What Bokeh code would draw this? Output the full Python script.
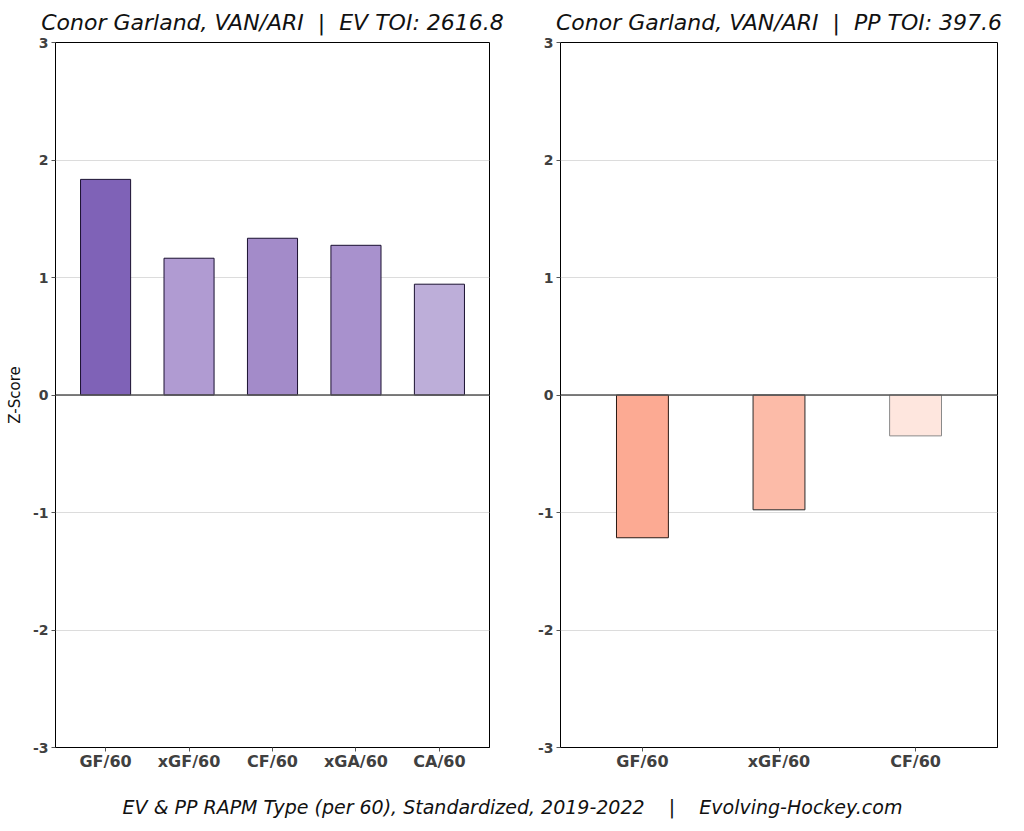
from bokeh.plotting import figure
from bokeh.models import FixedTicker, Span, Range1d, Label, ColumnDataSource
from bokeh.layouts import column, row
from bokeh.embed import file_html
from bokeh.resources import INLINE

# ---- data ----
ev_categories = ["GF/60", "xGF/60", "CF/60", "xGA/60", "CA/60"]
ev_values = [1.835, 1.164, 1.334, 1.274, 0.943]
ev_colors = ["#7f62b7", "#b09bd2", "#a38bc9", "#a891cd", "#bdaed9"]

pp_categories = ["GF/60", "xGF/60", "CF/60"]
pp_values = [-1.215, -0.977, -0.348]
pp_colors = ["#fcaa93", "#fcbba8", "#fee6de"]
pp_edges = ["#2a1a14", "#2a2a2a", "#8a8a8a"]

y_ticks = [-3, -2, -1, 0, 1, 2, 3]
y_tick_labels = ["-3", "-2", "-1", "0", "1", "2", "3"]

NB = "\u00a0"
ev_title = "Conor Garland, VAN/ARI" + NB * 2 + "|" + NB * 2 + "EV TOI: 2616.8"
pp_title = "Conor Garland, VAN/ARI" + NB * 2 + "|" + NB * 2 + "PP TOI: 397.6"
footer_text = ("EV & PP RAPM Type (per 60), Standardized, 2019-2022" + NB * 4 + "|" + NB * 4
               + "Evolving-Hockey.com")

FONT = "DejaVu Sans"


def make_panel(title, cats, vals, colors, edges, bar_width, width, bl, br, ylabel):
    n = len(cats)
    p = figure(width=width, height=790, output_backend="svg", toolbar_location=None,
               x_range=Range1d(-0.6, n - 1 + 0.6), y_range=Range1d(-3, 3),
               min_border_left=bl, min_border_right=br, min_border_top=42,
               min_border_bottom=43)
    p.title.text = title
    p.title.text_font = FONT
    p.title.text_font_style = "italic"
    p.title.text_font_size = "22px"
    p.title.text_color = "#111111"
    p.title.align = "center"
    p.title.standoff = 15

    src = ColumnDataSource(dict(x=list(range(n)), top=vals, color=colors, edge=edges))
    p.vbar(x="x", top="top", bottom=0, width=bar_width, source=src,
           fill_color="color", line_color="edge", line_width=1)

    p.add_layout(Span(location=0, dimension="width", line_color="#555555", line_width=1.3))

    p.xgrid.visible = False
    p.ygrid.grid_line_color = "#dcdcdc"
    p.ygrid.grid_line_width = 1
    p.ygrid.ticker = FixedTicker(ticks=y_ticks)

    p.outline_line_color = "black"
    p.outline_line_width = 1
    p.outline_line_alpha = 1

    p.yaxis.ticker = FixedTicker(ticks=y_ticks)
    p.yaxis.major_label_overrides = {t: s for t, s in zip(y_ticks, y_tick_labels)}
    p.xaxis.ticker = FixedTicker(ticks=list(range(n)))
    p.xaxis.major_label_overrides = {i: c for i, c in enumerate(cats)}

    for ax in (p.xaxis[0], p.yaxis[0]):
        ax.axis_line_color = "black"
        ax.major_tick_line_color = "#555555"
        ax.major_tick_out = 4
        ax.major_tick_in = 0
        ax.minor_tick_line_color = None
        ax.major_label_text_font = FONT
        ax.major_label_text_font_style = "bold"
        ax.major_label_text_color = "#404040"
    p.xaxis.major_label_text_font_size = "16px"
    p.xaxis.major_label_standoff = 0
    p.yaxis.major_label_text_font_size = "14px"
    p.yaxis.major_label_standoff = 3
    if ylabel:
        p.yaxis.axis_label = ylabel
        p.yaxis.axis_label_text_font = FONT
        p.yaxis.axis_label_text_font_style = "normal"
        p.yaxis.axis_label_text_font_size = "15px"
        p.yaxis.axis_label_text_color = "#111111"
        p.yaxis.axis_label_standoff = 6
    return p


p1 = make_panel(ev_title, ev_categories, ev_values, ev_colors, ["#1a1030"] * len(ev_values),
                0.6, 520, 55, 31, "Z-Score")
p2 = make_panel(pp_title, pp_categories, pp_values, pp_colors, pp_edges,
                0.38, 500, 40, 23, None)

p3 = figure(width=1020, height=36, output_backend="svg", toolbar_location=None,
            x_range=Range1d(0, 1020), y_range=Range1d(0, 36), min_border=0)
p3.axis.visible = False
p3.grid.visible = False
p3.outline_line_color = None
p3.add_layout(Label(x=512, y=20, text=footer_text, text_align="center", text_baseline="middle",
                    text_font=FONT, text_font_style="italic", text_font_size="19px",
                    text_color="#111111"))

layout = column(row(p1, p2), p3)
open("out.html", "w").write(file_html(layout, INLINE))
